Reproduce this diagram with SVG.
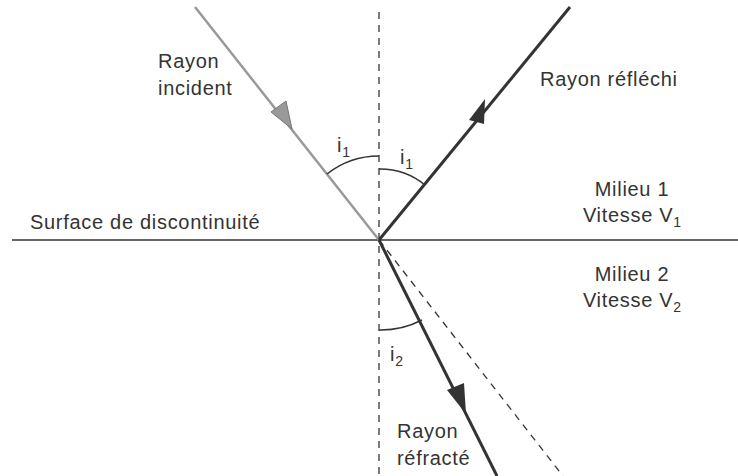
<svg xmlns="http://www.w3.org/2000/svg" width="738" height="476" viewBox="0 0 738 476">
<style>
text{font-family:"Liberation Sans",Arial,sans-serif;font-size:20px;letter-spacing:0.7px;fill:#333}
.sub{font-size:14px;letter-spacing:0}
.dash{stroke:#333;stroke-width:1.3;stroke-dasharray:7,6;fill:none}
.arc{stroke:#333;stroke-width:1.5;fill:none}
</style>
<rect width="738" height="476" fill="#fff"/>
<g id="connectors">
<line id="surface" x1="12" y1="240" x2="738" y2="240" stroke="#333" stroke-width="1.6"/>
<line id="normale" class="dash" x1="379" y1="12" x2="379" y2="476"/>
<line id="prolongement" class="dash" x1="379" y1="240" x2="563" y2="476"/>
<line id="incident" x1="195" y1="7" x2="379" y2="240" stroke="#999" stroke-width="2.5"/>
<polygon points="292,129 271,112 286,101" fill="#999" stroke="#777" stroke-width="1"/>
<line id="reflechi" x1="379" y1="240" x2="570" y2="7" stroke="#333" stroke-width="3"/>
<polygon points="485,99 469,120 484,124" fill="#333"/>
<line id="refracte" x1="379" y1="240" x2="497" y2="476" stroke="#333" stroke-width="3"/>
<polygon points="466,414 447,390 464,383" fill="#333"/>
<path class="arc" d="M327,174 A84,84 0 0 1 379,156"/>
<path class="arc" d="M379,169 A71,71 0 0 1 425,185"/>
<path class="arc" d="M379,330 A90,90 0 0 0 422,320"/>
</g>
<g id="labels">
<text x="158" y="68">Rayon</text>
<text x="158" y="95">incident</text>
<text x="337" y="152">i<tspan class="sub" dy="5">1</tspan></text>
<text x="400" y="164">i<tspan class="sub" dy="5">1</tspan></text>
<text x="540" y="86">Rayon réfléchi</text>
<text x="30" y="229">Surface de discontinuité</text>
<text x="632" y="196" text-anchor="middle">Milieu 1</text>
<text x="632" y="222" text-anchor="middle">Vitesse V<tspan class="sub" dy="5">1</tspan></text>
<text x="632" y="281" text-anchor="middle">Milieu 2</text>
<text x="632" y="307" text-anchor="middle">Vitesse V<tspan class="sub" dy="5">2</tspan></text>
<text x="390" y="361">i<tspan class="sub" dy="5">2</tspan></text>
<text x="397" y="438">Rayon</text>
<text x="397" y="465">réfracté</text>
</g>
</svg>
